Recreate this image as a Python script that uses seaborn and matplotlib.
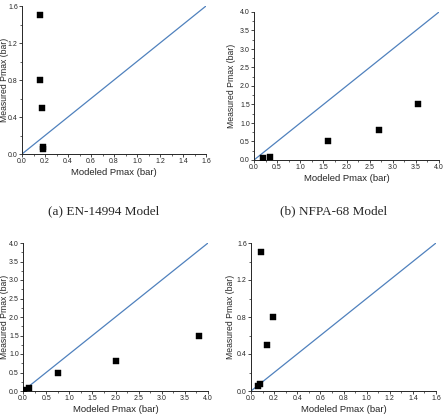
import matplotlib
matplotlib.use("Agg")
import matplotlib.pyplot as plt
import seaborn as sns
import pandas as pd
from matplotlib.ticker import MultipleLocator, AutoMinorLocator

# datos de cada panel (modelado vs medido)
en_top_x = [0.155, 0.16, 0.17, 0.18, 0.18]
en_top_y = [1.5, 0.8, 0.5, 0.08, 0.05]

nfpa_top_x = [0.2, 0.35, 1.6, 2.7, 3.55]
nfpa_top_y = [0.05, 0.08, 0.5, 0.8, 1.5]

en_bot_x = [0.02, 0.12, 0.75, 2.02, 3.8]
en_bot_y = [0.03, 0.08, 0.5, 0.8, 1.5]

nfpa_bot_x = [0.06, 0.08, 0.14, 0.19, 0.085]
nfpa_bot_y = [0.05, 0.08, 0.5, 0.8, 1.5]

# linea y = x
diag_small = [0.0, 1.62]
diag_big = [0.0, 4.05]

captions = ["(a) EN-14994 Model", "(b) NFPA-68 Model"]

W, H = 447, 419
sns.set_style("ticks")
plt.rcParams['font.family'] = ['Liberation Sans', 'DejaVu Sans']

fig = plt.figure(figsize=(W / 100, H / 100), dpi=100)


def caja(left, right, top, bottom):
    return [left / W, 1 - bottom / H, (right - left) / W, (bottom - top) / H]


def panel(rect, xs, ys, diag, lim, xstep, ystep, label_x):
    left = rect[0]
    ax = fig.add_axes(caja(*rect))
    df = pd.DataFrame({'x': xs, 'y': ys})
    sns.lineplot(x=diag, y=diag, ax=ax, color='#4f81bd', linewidth=0.9)
    sns.scatterplot(data=df, x='x', y='y', ax=ax, marker='s', color='black',
                    s=13, edgecolor='black', linewidth=0.3, zorder=3)
    ax.set_xlim(0, lim)
    ax.set_ylim(0, lim)
    ax.xaxis.set_major_locator(MultipleLocator(xstep))
    ax.yaxis.set_major_locator(MultipleLocator(ystep))
    ax.xaxis.set_minor_locator(AutoMinorLocator(2))
    ax.yaxis.set_minor_locator(AutoMinorLocator(2))
    ax.xaxis.set_major_formatter(plt.FormatStrFormatter('%.1f'))
    ax.yaxis.set_major_formatter(plt.FormatStrFormatter('%.1f'))
    ax.tick_params(which='major', length=2.2, width=0.6, labelsize=5.0, pad=0.8)
    ax.tick_params(which='minor', length=1.3, width=0.5)
    ax.set_xlabel('Modeled Pmax (bar)', fontsize=6.8, labelpad=2)
    ax.set_ylabel('Measured Pmax (bar)', fontsize=6.2)
    # borde derecho de la etiqueta y, en pixeles
    ax.yaxis.set_label_coords((label_x - left) / (rect[1] - left), 0.5)
    for s in ['left', 'bottom']:
        ax.spines[s].set_linewidth(0.7)
    sns.despine(ax=ax)
    return ax


panel((22, 206, 6, 154), en_top_x, en_top_y, diag_small, 1.6, 0.2, 0.4, 8.6)
panel((254, 439, 12, 160), nfpa_top_x, nfpa_top_y, diag_big, 4.0, 0.5, 0.5, 236)
panel((23, 208, 243, 391), en_bot_x, en_bot_y, diag_big, 4.0, 0.5, 0.5, 9.0)
panel((251, 436, 243, 391), nfpa_bot_x, nfpa_bot_y, diag_small, 1.6, 0.2, 0.4, 235)

fig.text(104 / W, 1 - 211 / H, captions[0], ha='center', va='center',
         fontsize=9.5, family=['Liberation Serif', 'DejaVu Serif'])
fig.text(334 / W, 1 - 211 / H, captions[1], ha='center', va='center',
         fontsize=9.5, family=['Liberation Serif', 'DejaVu Serif'])

fig.savefig('out.png', dpi=100)
